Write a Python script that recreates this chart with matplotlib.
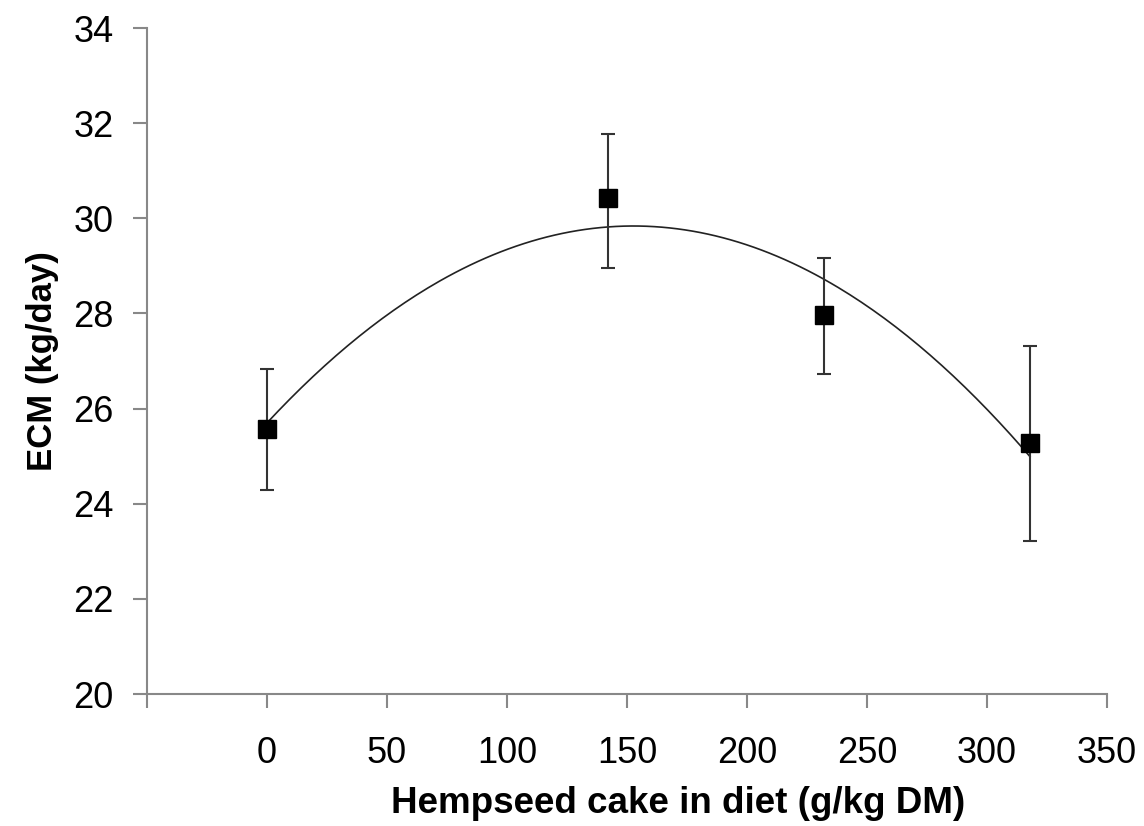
import numpy as np
import matplotlib.pyplot as plt

plt.rcParams['font.family'] = ['Liberation Sans', 'DejaVu Sans']

# data
hempseed = [0, 142, 232, 318]
ecm = [25.57, 30.42, 27.97, 25.27]
err_low = [24.29, 28.95, 26.72, 23.22]
err_high = [26.83, 31.77, 29.17, 27.31]

yerr = [np.array(ecm) - np.array(err_low), np.array(err_high) - np.array(ecm)]

# quadratic trend line fitted to the means
coef = np.polyfit(hempseed, ecm, 2)
xs = np.linspace(min(hempseed), max(hempseed), 200)
ys = np.polyval(coef, xs)

fig = plt.figure(figsize=(11.44, 8.26), dpi=100)
ax = fig.add_axes([0.1285, 0.1598, 0.839, 0.8062])

ax.plot(xs, ys, color='#222222', lw=1.2, zorder=2)
ax.errorbar(hempseed, ecm, yerr=yerr, fmt='s', color='black', ms=13,
            ecolor='#333333', elinewidth=1.5, capsize=5, capthick=1.5, zorder=3)

ax.set_xlim(-50, 350)
ax.set_ylim(20, 34)
ax.set_xticks([-50, 0, 50, 100, 150, 200, 250, 300, 350])
ax.set_xticklabels(['', '0', '50', '100', '150', '200', '250', '300', '350'])
ax.set_yticks(range(20, 35, 2))

for s in ['top', 'right']:
    ax.spines[s].set_visible(False)
for s in ['left', 'bottom']:
    ax.spines[s].set_color('#888888')
    ax.spines[s].set_linewidth(1.5)

ax.tick_params(axis='both', colors='#888888', width=1.5, length=10,
               labelsize=26, labelcolor='black')
ax.tick_params(axis='x', pad=20)
ax.tick_params(axis='y', pad=14)

ax.set_xlabel('Hempseed cake in diet (g/kg DM)', fontsize=26.5, fontweight='bold')
ax.xaxis.set_label_coords(0.553, -0.138)
ax.set_ylabel('ECM (kg/day)', fontsize=25, fontweight='bold', labelpad=10)

fig.savefig('out.png', dpi=100)
